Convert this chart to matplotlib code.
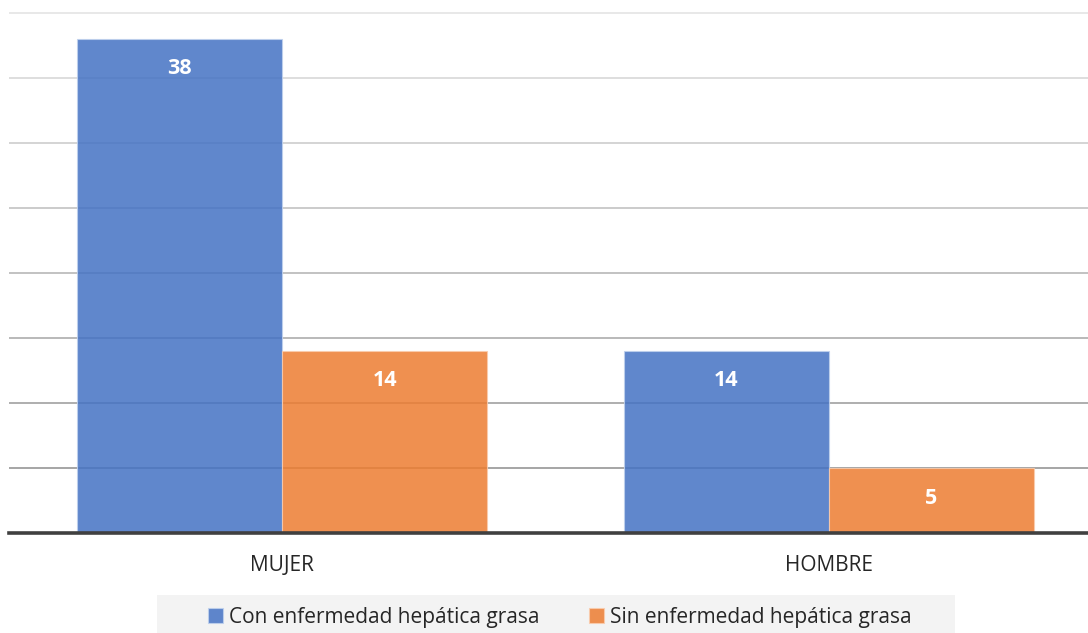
import matplotlib
matplotlib.use("Agg")
import matplotlib.pyplot as plt
from matplotlib.patches import Rectangle
import numpy as np

categories = ["MUJER", "HOMBRE"]
series_names = ["Con enfermedad hepática grasa", "Sin enfermedad hepática grasa"]
con_values = [38, 14]
sin_values = [14, 5]
grid_values = [5, 10, 15, 20, 25, 30, 35, 40]

plt.rcParams["font.family"] = ["Open Sans", "DejaVu Sans"]

W, H = 1088, 633
fig = plt.figure(figsize=(W / 100, H / 100), dpi=100)
fig.patch.set_facecolor("white")

ax_left = 9 / W
ax_right = 1102 / W
ax_bottom = (H - 533) / H
ax_top = 1.0
ax = fig.add_axes([ax_left, ax_bottom, ax_right - ax_left, ax_top - ax_bottom])
ax.set_xlim(-0.5, 1.5)
ax.set_ylim(0, 41)

# horizontal gridlines shading from light (top) to darker (bottom)
greys = np.linspace(0.90, 0.62, len(grid_values))[::-1]
for g, shade in zip(grid_values, greys):
    ax.axhline(g, color=(shade, shade, shade), lw=1.3, zorder=1)

x = np.arange(len(categories))
width = 0.375
blue = "#4472c4"
orange = "#ed7d31"
b1 = ax.bar(x - width / 2, con_values, width, color=blue, alpha=0.85,
            edgecolor=(0.75, 0.82, 0.93), linewidth=0.8, zorder=2,
            label=series_names[0])
b2 = ax.bar(x + width / 2, sin_values, width, color=orange, alpha=0.85,
            edgecolor=(0.98, 0.80, 0.68), linewidth=0.8, zorder=2,
            label=series_names[1])

for bars, vals in ((b1, con_values), (b2, sin_values)):
    for rect, v in zip(bars, vals):
        ax.annotate(str(v), (rect.get_x() + rect.get_width() / 2, v),
                    xytext=(0, -30), textcoords="offset pixels",
                    ha="center", va="center", color="white",
                    fontsize=15.5, fontweight="bold", zorder=4)

for s in ("top", "right", "left"):
    ax.spines[s].set_visible(False)
ax.spines["bottom"].set_color("#404040")
ax.spines["bottom"].set_linewidth(2.6)
ax.spines["bottom"].set_zorder(5)

ax.set_yticks([])
ax.set_xticks(x)
ax.set_xticklabels(categories, fontsize=15, color="#262626")
ax.tick_params(axis="x", length=0, pad=16)

# legend background panel
fig.patches.append(Rectangle((157 / W, 0), (955 - 157) / W, (H - 595) / H,
                             transform=fig.transFigure, facecolor="#f3f3f3",
                             edgecolor="none", zorder=0))

leg = fig.legend(handles=[b1, b2], labels=series_names, loc="center",
                 bbox_to_anchor=(560 / W, 1 - 617 / H), ncol=2,
                 fontsize=15, frameon=False,
                 handlelength=0.7, handleheight=0.7, handletextpad=0.3,
                 columnspacing=2.4, borderpad=0.2, borderaxespad=0)
for t in leg.get_texts():
    t.set_color("#262626")

fig.savefig("out.png", dpi=100, facecolor="white")
